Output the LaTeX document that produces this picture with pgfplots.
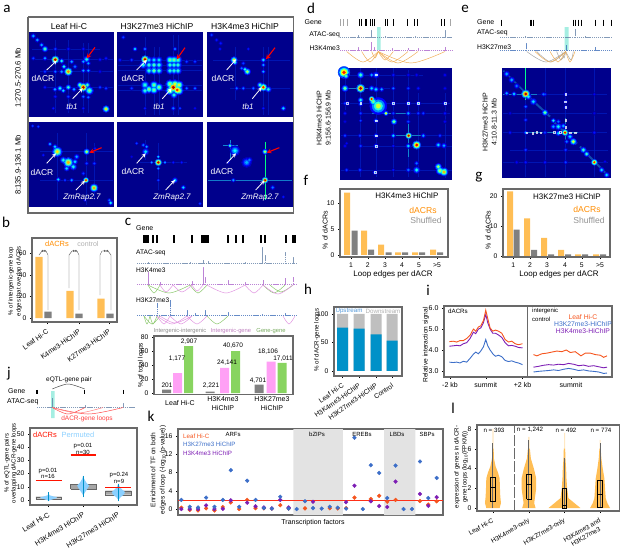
\documentclass[border=0pt]{standalone}
\usepackage{pgfplots}
\usepackage{pgfplotstable}
\usepackage{fontspec}
\setmainfont{Liberation Sans}
\newfontfamily\letterfont{Carlito}
\pgfplotsset{compat=1.18}
\definecolor{hmbg}{RGB}{0,0,140}
\definecolor{stripe}{RGB}{0,35,205}
\definecolor{barorange}{RGB}{255,190,85}
\definecolor{bargray}{RGB}{128,128,128}
\definecolor{barpink}{RGB}{255,160,245}
\definecolor{bargreen}{RGB}{136,212,96}
\definecolor{tealband}{RGB}{165,238,226}
\definecolor{lred}{RGB}{245,85,30}
\definecolor{lblue}{RGB}{60,110,200}
\definecolor{lpurple}{RGB}{125,30,180}
\definecolor{upblue}{RGB}{0,145,200}
\definecolor{permblue}{RGB}{140,208,255}
\definecolor{framegray}{RGB}{105,105,105}
\definecolor{track}{RGB}{90,120,160}
\definecolor{k4track}{RGB}{165,90,200}
\definecolor{k27track}{RGB}{50,100,180}
\definecolor{arcgreen}{RGB}{140,200,110}
\definecolor{arcpink}{RGB}{225,150,225}
\definecolor{arcorange}{RGB}{240,175,90}
\definecolor{txtgray}{RGB}{175,175,175}

% heatmap spots: x y (in crop units), v colour level, s radius
\pgfplotstableread[row sep=\\]{x y v s\\
135 215 .2 1.2\\ 166 215 .25 1.2\\ 135 262 .15 1.2\\ 205 147 .15 1.2\\ 250 147 .15 1.2\\ 166 147 .2 1.2\\ 300 179 .15 1.2\\ 300 215 .12 1.2\\ 300 262 .2 1.2\\ 205 325 .15 1.2\\ 166 290 .15 1.2\\ 205 290 .2 1.2\\
100 108 .3 1.5\\ 112 120 .3 1.4\\ 125 135 .3 1.4\\ 135 147 .45 1.8\\ 135 175 .3 1.3\\ 100 175 .2 1.2\\
185 183 .4 1.5\\ 192 200 .4 1.5\\ 215 185 .3 1.4\\ 185 215 .3 1.4\\ 225 200 .25 1.4\\ 260 178 .4 2\\ 250 185 .3 1.3\\ 265 190 .3 1.3\\ 250 212 .3 1.3\\ 265 212 .3 1.3\\
180 265 .4 1.6\\ 165 268 .3 1.4\\ 190 272 .35 1.4\\ 205 262 .45 1.6\\ 222 268 .3 1.4\\ 240 255 .5 1.8\\ 268 272 .5 2.5\\ 262 255 .45 1.7\\ 250 290 .25 1.2\\ 265 292 .25 1.2\\ 318 265 .2 1.2\\ 318 175 .15 1.2\\ 160 325 .15 1\\ 250 325 .15 1\\
205 215 .75 2.4\\ 166 179 .95 2.2\\ 250 262 .95 2.4\\ 318 327 .65 2\\
}\hmA
\pgfplotstableread[row sep=\\]{x y v s\\
370 112 .2 1.2\\ 405 147 .35 1.3\\ 435 147 .25 1.2\\ 525 147 .25 1.2\\ 360 180 .15 1.2\\ 395 180 .2 1.2\\ 585 185 .2 1.2\\ 395 265 .2 1.2\\ 560 265 .25 1.2\\ 585 265 .25 1.2\\ 560 185 .2 1.2\\ 435 325 .15 1\\ 520 325 .25 1.4\\ 540 325 .2 1\\ 585 325 .12 1\\
430 195 .4 2.2\\ 447 195 .42 2.2\\ 462 195 .45 2.2\\ 477 195 .42 2.2\\ 447 212 .42 2.2\\ 462 212 .5 2.2\\ 477 212 .42 2.2\\ 447 180 .35 2\\ 462 180 .35 2\\ 477 180 .35 2\\
510 180 .5 2.4\\ 522 180 .5 2.4\\ 534 180 .45 2.4\\ 510 195 .42 2.2\\ 522 195 .42 2.2\\ 534 195 .42 2.2\\ 510 212 .42 2.2\\ 522 212 .42 2.2\\ 534 212 .42 2.2\\
435 255 .42 2.4\\ 447 268 .5 2.4\\ 462 255 .5 2.4\\ 462 270 .5 2.4\\ 477 262 .5 2.4\\ 435 272 .42 2.2\\ 510 252 .55 2.6\\ 525 252 .6 2.6\\ 510 272 .6 2.6\\ 537 255 .6 2.6\\ 537 272 .6 2.6\\ 522 285 .42 2\\
435 178 .95 2.2\\ 520 262 .95 3\\ 532 270 .85 2.5\\
}\hmB
\pgfplotstableread[row sep=\\]{x y v s\\
635 105 .2 1.2\\ 650 120 .15 1.2\\ 662 130 .15 1.2\\ 660 147 .15 1\\ 745 147 .15 1\\ 790 195 .3 1.2\\ 790 215 .3 1.2\\ 730 190 .2 1.2\\ 725 205 .25 1.2\\ 710 265 .25 1.2\\ 730 265 .25 1.2\\ 760 265 .25 1.2\\ 790 325 .15 1\\ 745 325 .15 1\\ 805 268 .4 1.8\\ 780 255 .45 1.7\\ 790 180 .35 1.5\\ 735 208 .4 1.5\\ 705 188 .4 1.5\\
702 180 .65 2\\ 742 215 .55 2\\ 790 262 .85 2.2\\ 850 325 .35 1.5\\
}\hmC
\pgfplotstableread[row sep=\\]{x y v s\\
98 378 .2 1\\ 115 380 .2 1\\ 150 432 .3 1.2\\ 165 440 .35 1.4\\ 130 465 .15 1\\ 190 480 .4 2\\ 220 500 .4 2\\ 230 470 .3 1.6\\ 200 505 .35 1.6\\ 225 485 .35 1.6\\ 260 490 .2 1.2\\ 283 490 .2 1.2\\ 250 520 .2 1.2\\ 175 538 .35 1.3\\ 215 540 .3 1.2\\ 195 540 .2 1\\ 285 445 .15 1\\ 255 600 .15 1\\ 328 600 .25 1.2\\ 332 608 .4 1.4\\
172 455 .65 3\\ 205 487 .7 3\\ 260 455 .55 1.8\\ 258 540 .85 1.6\\ 282 563 .72 2.4\\
}\hmD
\pgfplotstableread[row sep=\\]{x y v s\\
410 430 .2 1\\ 430 435 .25 1.2\\ 395 470 .1 1\\ 475 470 .35 1\\ 475 505 .3 1\\ 455 487 .3 1\\ 495 487 .3 1\\ 520 487 .15 1\\ 545 487 .15 1\\ 475 540 .2 1\\ 440 440 .3 1.2\\ 550 562 .35 1.4\\ 600 610 .2 1\\
437 455 .35 2\\ 525 540 .35 1.6\\ 475 487 .95 2\\
}\hmE
\pgfplotstableread[row sep=\\]{x y v s\\
690 437 .45 1.2\\ 685 487 .15 1\\ 740 487 .3 3\\ 748 480 .25 1.8\\ 700 540 .3 1.2\\ 818 562 .25 1.4\\ 850 590 .15 1\\
705 452 .38 3\\ 795 455 .55 1.6\\ 795 540 .95 1.8\\
}\hmF
\pgfplotstableread[row sep=\\]{x y v s\\
105 340 .15 1.2\\ 152 340 .2 1.2\\ 250 340 .2 1.2\\ 405 340 .15 1.2\\ 105 365 .1 1.2\\ 405 365 .12 1.2\\ 405 225 .12 1.2\\ 105 310 .2 1.2\\ 340 340 .2 1.2\\ 295 265 .2 1.2\\ 250 265 .25 1.2\\ 325 265 .15 1.2\\ 405 265 .12 1.2\\ 152 438 .2 1.2\\ 105 438 .12 1.2\\ 405 510 .4 1.4\\
320 225 .12 1.2\\ 295 225 .12 1.2\\ 250 225 .15 1.2\\ 198 225 .3 2\\ 185 225 .3 1.4\\ 152 225 .45 2\\ 185 265 .35 1.6\\ 105 265 .5 2\\ 198 268 .35 1.6\\ 215 268 .3 1.4\\
112 310 .2 1.4\\ 152 300 .4 1.6\\ 152 312 .3 1.4\\ 250 310 .25 1.4\\ 295 310 .3 1.4\\ 325 310 .3 1.4\\ 405 310 .25 1.4\\ 228 340 .6 1.4\\ 295 340 .3 1.4\\ 325 340 .2 1.2\\ 198 362 .3 1.4\\ 252 365 .5 1.8\\ 295 365 .2 1.2\\ 152 362 .2 1\\
105 407 .2 1.2\\ 150 407 .2 1.2\\ 198 407 .3 1.4\\ 250 407 .35 1.4\\ 340 407 .3 1.4\\ 390 407 .2 1.2\\ 198 438 .3 1.4\\ 295 438 .35 1.5\\ 385 435 .35 1.6\\ 402 437 .3 1.6\\ 250 438 .15 1\\ 110 510 .2 1.2\\ 150 510 .2 1.2\\ 195 517 .25 1.4\\ 250 510 .15 1\\ 295 510 .25 1.4\\ 320 510 .4 2\\ 320 490 .25 1.4\\ 385 500 .55 2\\ 390 512 .55 2.4\\ 110 430 .12 1\\
205 318 .58 5\\ 190 305 .5 2.4\\ 102 217 .85 3.5\\ 108 228 .45 1.8\\ 152 265 .95 2.5\\ 185 297 .9 1.6\\ 296 407 .95 1.8\\ 320 435 .9 2.5\\ 402 516 .7 2.4\\
}\hmG
\pgfplotstableread[row sep=\\]{x y v s\\
647 320 .25 1.2\\ 647 360 .2 1.2\\ 647 398 .3 1.2\\ 647 450 .2 1.2\\ 647 487 .15 1.2\\ 705 398 .2 1.2\\ 705 283 .2 1.2\\ 705 487 .15 1.2\\ 767 487 .2 1.2\\ 767 450 .2 1.2\\ 853 398 .15 1.2\\ 853 340 .1 1.2\\ 600 398 .15 1.2\\ 600 340 .1 1.2\\ 620 487 .12 1.2\\
590 222 .3 1.8\\ 605 240 .3 1.8\\ 620 258 .25 1.6\\ 670 305 .35 2\\ 655 290 .4 1.8\\ 705 338 .5 1.8\\ 730 362 .4 1.4\\ 745 380 .4 2\\ 730 380 .3 1.6\\ 745 400 .35 1.6\\ 760 378 .3 1.6\\ 745 365 .25 1.4\\ 780 410 .35 1.8\\ 790 425 .6 2\\ 770 425 .25 1.4\\ 820 450 .45 1.8\\ 830 462 .45 1.6\\ 875 510 .35 1.6\\ 890 525 .35 1.6\\ 885 485 .12 1\\
767 283 .2 1.2\\ 767 305 .2 1.2\\ 767 322 .2 1.2\\ 853 283 .12 1\\ 700 283 .25 1.2\\ 590 280 .3 1.4\\ 612 282 .35 1.4\\
647 282 .95 2.5\\ 765 398 .9 1.8\\ 853 487 .85 1.8\\
}\hmH

\pgfplotsset{
  pos/.style n args={4}{at={(#1pt,-#2pt)},anchor=north west,width=#3pt,height=#4pt,scale only axis},
  hmax/.style={hide axis,axis background/.style={fill=hmbg},y dir=reverse,colormap/jet,point meta min=0,point meta max=1,enlargelimits=false,clip=true},
  hmstripe/.style={stripe,line width=.9pt,opacity=.6,forget plot},
  common/.style={enlargelimits=false,axis line style={framegray,line width=1.2pt},
    tick label style={font=\fontsize{6.8}{8}\selectfont},
    tickwidth=2pt,tick align=outside,xtick pos=bottom,ytick pos=left,
    every tick/.style={black,thin},
    /pgf/number format/assume math mode=true,
    /pgf/number format/1000 sep={},axis on top},
  sig/.style={#1,line width=.35pt,dash pattern=on 1.2pt off .7pt,opacity=.75},
}
\newcommand{\hmlayer}[3]{%
  \addplot[scatter,only marks,mark=*,scatter/use mapped color={draw=mapped color,fill=mapped color},
    point meta={\thisrow{v}*#2},
    visualization depends on={\thisrow{s}*#3\as\msz},
    scatter/@pre marker code/.append style={/tikz/mark size=\msz}]
    table[x=x,y=y] {#1};}
\newcommand{\hmplot}[1]{\hmlayer{#1}{.22}{1.7}\hmlayer{#1}{.45}{1.25}\hmlayer{#1}{.72}{.85}\hmlayer{#1}{1}{.45}}
\newcommand{\hmh}[3]{\addplot[hmstripe] coordinates {(#2,#1)(#3,#1)};}
\newcommand{\hmv}[3]{\addplot[hmstripe] coordinates {(#1,#2)(#1,#3)};}
\newcommand{\T}[4][]{\node[font=\fontsize{#2}{#2}\selectfont,inner sep=0pt,#1] at (axis cs:#3) {#4};}
\newcommand{\Lt}[2]{\node[font=\letterfont\fontsize{15}{15}\selectfont,inner sep=0pt] at (axis cs:#1) {#2};}
\newcommand{\arc}[6]{\addplot[#1,smooth,no marks,line width=.5pt] coordinates {(#2,#5)(#3,#6)(#4,#5)};}
\newcommand{\whitearrow}[4]{\draw[white,line width=.8pt,-stealth] (axis cs:#1/3,#2/3) -- (axis cs:#3/3,#4/3);}
\newcommand{\redarrow}[4]{\draw[red,line width=1.1pt,-stealth] (axis cs:#1/3,#2/3) -- (axis cs:#3/3,#4/3);}

\begin{document}
\begin{tikzpicture}
\path[use as bounding box] (0pt,0pt) rectangle (620pt,-549pt);

% --- panel a heatmaps
\begin{axis}[hmax,pos={29.3}{32}{84.4}{85},xmin=88,xmax=341,ymin=96,ymax=351]
\hmh{179}{95}{340}\hmh{215}{120}{340}\hmh{262}{140}{340}\hmh{147}{95}{300}\hmv{166}{120}{340}\hmv{205}{120}{340}\hmv{250}{130}{340}\hmv{265}{130}{340}
\hmplot{\hmA}
\end{axis}
\begin{axis}[hmax,pos={117.3}{32}{85.7}{85},xmin=352,xmax=609,ymin=96,ymax=351]
\hmh{180}{355}{605}\hmh{195}{355}{605}\hmh{212}{355}{605}\hmh{255}{355}{605}\hmh{272}{355}{605}\hmv{435}{110}{345}\hmv{462}{140}{345}\hmv{477}{140}{345}\hmv{520}{105}{345}\hmv{535}{105}{345}
\hmplot{\hmB}
\end{axis}
\begin{axis}[hmax,pos={207}{32}{85.7}{85},xmin=621,xmax=878,ymin=96,ymax=351]
\hmh{180}{640}{870}\hmh{265}{690}{870}\hmv{705}{140}{300}\hmv{790}{140}{345}\hmv{805}{140}{345}
\hmplot{\hmC}
\end{axis}
\begin{axis}[hmax,pos={29.3}{122.3}{84.4}{85},xmin=88,xmax=341,ymin=367,ymax=621]
\hmh{455}{120}{340}\hmh{540}{120}{340}\hmv{260}{400}{615}\hmv{172}{400}{600}\hmv{283}{430}{600}
\hmplot{\hmD}
\end{axis}
\begin{axis}[hmax,pos={117.3}{122.3}{85.7}{85},xmin=352,xmax=609,ymin=367,ymax=621]
\hmh{487}{420}{560}\hmv{475}{430}{570}\hmv{437}{420}{480}
\hmplot{\hmE}
\end{axis}
\begin{axis}[hmax,pos={207}{122.3}{85.7}{85},xmin=621,xmax=878,ymin=367,ymax=621]
\addplot[cyan!60!blue,line width=.9pt,forget plot] coordinates {(625,540)(875,540)};
\addplot[green!50!cyan,line width=1pt,forget plot] coordinates {(795,425)(795,600)};
\addplot[cyan!70!blue,line width=.7pt,forget plot] coordinates {(670,437)(715,437)};
\addplot[cyan!70!blue,line width=.7pt,forget plot] coordinates {(690,420)(690,480)};
\hmplot{\hmF}
\end{axis}

% --- panel d, e heatmaps
\begin{axis}[hmax,pos={340}{67.7}{112.3}{112.3},xmin=90,xmax=427,ymin=203,ymax=540]
\hmh{265}{92}{240}\hmh{310}{92}{420}\hmh{340}{150}{420}\hmh{407}{92}{425}\hmh{438}{150}{425}\hmh{510}{92}{425}\hmh{225}{92}{340}\hmv{105}{205}{330}\hmv{152}{205}{530}\hmv{198}{205}{530}\hmv{250}{205}{530}\hmv{296}{210}{530}\hmv{325}{280}{530}\hmv{405}{280}{535}
\addplot[cyan!70!blue,line width=1pt,forget plot] coordinates {(296,360)(296,470)};
\addplot[cyan!60!blue,line width=.9pt,forget plot] coordinates {(250,407)(345,407)};
\addplot[cyan!60!blue,line width=.9pt,forget plot] coordinates {(95,265)(175,265)};
\addplot[cyan!60!blue,line width=.7pt,forget plot] coordinates {(185,340)(290,340)};
\hmplot{\hmG}
\addplot[only marks,mark=square,mark size=.9pt,mark options={white,opacity=.75,line width=.4pt}] coordinates {(198,224)(112,310)(152,310)(250,310)(295,310)(325,310)(405,310)(198,362)(198,407)(198,438)(195,517)};
\end{axis}
\begin{axis}[hmax,pos={501.7}{68.3}{109.3}{110},xmin=575,xmax=903,ymin=205,ymax=535]
\hmh{283}{580}{890}\hmh{398}{580}{890}\hmh{487}{580}{895}\hmh{340}{580}{890}\hmh{450}{600}{895}\hmv{647}{205}{530}\hmv{705}{205}{530}\hmv{767}{205}{530}\hmv{853}{205}{530}
\addplot[green!45!cyan,line width=1.1pt,forget plot] coordinates {(647,205)(647,300)};
\addplot[cyan!60!blue,line width=.9pt,forget plot] coordinates {(578,283)(680,283)};
\addplot[cyan!60!blue,line width=.8pt,forget plot] coordinates {(645,398)(805,398)};
\addplot[cyan!60!blue,line width=.8pt,forget plot] coordinates {(767,355)(767,430)};
\addplot[cyan!50!blue,line width=1.6pt,opacity=.7,forget plot] coordinates {(580,212)(640,272)};
\addplot[cyan!50!blue,line width=2pt,opacity=.7,forget plot] coordinates {(655,290)(720,350)};
\addplot[cyan!50!blue,line width=3pt,opacity=.7,forget plot] coordinates {(730,362)(800,432)};
\addplot[cyan!50!blue,line width=2pt,opacity=.7,forget plot] coordinates {(810,440)(895,528)};
\hmplot{\hmH}
\addplot[only marks,mark=square,mark size=.9pt,mark options={white,opacity=.75,line width=.4pt}] coordinates {(767,283)(765,305)(767,322)(767,360)(767,382)(650,398)(668,400)(680,396)(692,398)(732,397)(750,397)(780,398)(795,398)};
\end{axis}

% --- panel b
\begin{axis}[common,pos={32}{238}{85}{84},xmin=32,xmax=117,ymin=-3.7,ymax=74,ybar,bar width=7.3pt,bar shift=0pt,
  ytick={0,20,40,60},xtick={47,79,109},xticklabels={Leaf Hi-C,K4me3-HiChIP,K27me3-HiChIP},
  x tick label style={rotate=35,anchor=north east,font=\fontsize{7}{8}\selectfont}]
\addplot[fill=barorange,draw=none] coordinates {(39,56.5)(70,25)(101,18)};
\addplot[fill=bargray,draw=none] coordinates {(48,6)(79,4)(110,4)};
\end{axis}

% --- panel c bars
\begin{axis}[common,pos={154}{336}{139}{58.5},xmin=154,xmax=293,ymin=-2,ymax=81.5,ybar,bar width=9pt,bar shift=0pt,
  ytick={0,20,40,60,80},xtick=\empty]
\addplot[fill=bargray,draw=none] coordinates {(166.5,5)(210,2)(259,12)};
\addplot[fill=barpink,draw=none] coordinates {(177.5,28.5)(224.5,36)(271,45)};
\addplot[fill=bargreen,draw=none] coordinates {(188.5,67)(235.5,60)(282,43)};
\end{axis}

% --- panel f
\begin{axis}[common,pos={340}{189}{108}{68},xmin=340,xmax=448,ymin=-.4,ymax=12.7,ybar,bar width=6pt,bar shift=0pt,
  ytick={0,5,10},xtick={351,367.7,385,402,419,437},xticklabels={1,2,3,4,5,>5}]
\addplot[fill=barorange,draw=none] coordinates {(347,12)(364,4.7)(381,2)(398,.5)(415,.5)(433,1)};
\addplot[fill=bargray,draw=none] coordinates {(354.5,4.7)(371,1)(388.5,.5)(405,.5)(422,.5)(440,.5)};
\end{axis}

% --- panel g
\begin{axis}[common,pos={503}{189}{107}{68},xmin=503,xmax=610,ymin=-.4,ymax=22.3,ybar,bar width=6pt,bar shift=0pt,
  ytick={0,10,20},xtick={513.3,530,547,565,581.7,600},xticklabels={1,2,3,4,5,>5}]
\addplot[fill=barorange,draw=none] coordinates {(510,21.5)(527,12.5)(544,6)(561,2)(578,.5)(596,.5)};
\addplot[fill=bargray,draw=none] coordinates {(516.7,8.7)(534,2)(551,.5)(568,.5)(585,.5)(603,.5)};
\end{axis}

% --- panel h
\begin{axis}[common,pos={334}{307}{68}{69},xmin=334,xmax=402,ymin=-8.8,ymax=112,ybar,bar width=11pt,bar shift=0pt,
  ytick={0,50,100},xtick={342.5,359,376,392},
  xticklabels={Leaf Hi-C,H3K4me3-HiChIP,H3K27me3-HiChIP,Control},
  x tick label style={rotate=35,anchor=north east,font=\fontsize{6.8}{8}\selectfont}]
\addplot[fill=gray!50,draw=none] coordinates {(342.5,100)(359,100)(376,100)(392,100)};
\addplot[fill=upblue,draw=none] coordinates {(342.5,76)(359,74)(376,64)(392,53)};
\end{axis}

% --- panel i
\begin{axis}[common,pos={444}{306}{168}{71},xmin=402,xmax=905,ymin=2.71,ymax=6.1,
  ytick={3,4,5,6},yticklabel style={/pgf/number format/fixed,/pgf/number format/fixed zerofill,/pgf/number format/precision=1},
  xtick={420,527,637,782},xticklabels={-2 kb,summit,+2 kb,summit},
  tick label style={font=\fontsize{7}{8}\selectfont}]
\addplot[lblue,line width=.9pt] coordinates {(418,3.42)(430,3.4)(440,3.42)(450,3.38)(460,3.46)(470,3.42)(480,3.6)(490,3.8)(497,3.9)(505,3.82)(512,3.95)(520,4.15)(527,4.5)(533,4.2)(540,4)(548,3.82)(556,3.7)(565,3.75)(575,3.68)(585,3.5)(595,3.45)(605,3.48)(615,3.42)(625,3.38)(637,3.3)};
\addplot[lpurple,line width=.9pt] coordinates {(418,4.18)(430,4.2)(440,4.22)(450,4.2)(460,4.3)(470,4.35)(480,4.55)(490,4.85)(497,4.78)(505,5)(512,5.05)(520,5.3)(527,5.7)(533,5.3)(540,5)(548,4.8)(556,4.8)(565,4.72)(575,4.6)(585,4.35)(595,4.2)(605,4.22)(615,4.18)(625,4.12)(637,4.1)};
\addplot[lred,line width=.9pt] coordinates {(418,4.4)(430,4.42)(440,4.38)(450,4.45)(460,4.45)(470,4.55)(480,4.7)(490,5)(497,4.9)(505,5.1)(512,5.15)(520,5.4)(527,5.9)(533,5.5)(540,5.05)(548,4.9)(556,4.95)(565,4.9)(575,4.8)(585,4.5)(595,4.38)(605,4.42)(615,4.3)(625,4.25)(637,4.3)};
\addplot[lblue,line width=.9pt] coordinates {(670,2.95)(685,2.98)(700,3)(715,3.02)(730,3.05)(745,3.02)(760,3.08)(775,3.12)(790,3.08)(805,3.02)(820,3.05)(835,3)(850,2.98)(865,2.95)(880,2.88)(890,2.9)};
\addplot[lpurple,line width=.9pt] coordinates {(670,3.18)(685,3.22)(700,3.27)(715,3.3)(730,3.28)(745,3.32)(760,3.3)(775,3.36)(790,3.32)(805,3.25)(820,3.28)(835,3.22)(850,3.25)(865,3.2)(880,3.15)(890,3.18)};
\addplot[lred,line width=.9pt] coordinates {(670,3.78)(680,3.72)(695,3.82)(710,3.85)(725,3.9)(740,3.95)(755,3.92)(768,4)(780,3.88)(795,3.92)(812,3.72)(825,3.85)(840,3.85)(855,3.78)(870,3.75)(880,3.65)(890,3.72)};
\addplot[framegray,line width=1.2pt] coordinates {(652,2.71)(652,6.1)};
\end{axis}

% --- panel j
\begin{axis}[common,pos={30}{428}{107}{77},xmin=90,xmax=412,ymin=-3.8,ymax=54.5,
  ytick={0,10,20,30,40,50},xtick={146,251,356},xticklabels={Leaf Hi-C,H3K4me3 HiChIP,H3K27me3 HiChIP},
  x tick label style={rotate=32,anchor=north east,font=\fontsize{7.2}{8}\selectfont}]
\addplot[fill=gray!70,draw=black!60,line width=.3pt] coordinates {(108,1)(185,1)(185,2.5)(108,2.5)(108,1)};
\addplot[fill=gray!70,draw=black!60,line width=.3pt] coordinates {(212,8.5)(290,8.5)(290,12)(212,12)(212,8.5)};
\addplot[fill=gray!70,draw=black!60,line width=.3pt] coordinates {(317,4)(395,4)(395,7)(317,7)(317,4)};
\addplot[fill=permblue,draw=none,smooth] coordinates {(146,-.5)(128,1)(120,1.8)(130,2.6)(143,3.6)(146,5)(149,3.6)(162,2.6)(172,1.8)(164,1)(146,-.5)};
\addplot[fill=permblue,draw=none] coordinates {(250,3.5)(244,6)(236,9)(232,11)(240,13)(247,16)(250,18.5)(253,16)(260,13)(268,11)(264,9)(256,6)(250,3.5)};
\addplot[fill=permblue,draw=none] coordinates {(356,0)(350,2)(340,4)(336,6)(345,8)(352,10)(356,12.5)(360,10)(367,8)(376,6)(372,4)(362,2)(356,0)};
\addplot[upblue,line width=.5pt] coordinates {(146,-1)(146,6)};
\addplot[upblue,line width=.5pt] coordinates {(250,2)(250,18)};
\addplot[upblue,line width=.5pt] coordinates {(356,-1)(356,12)};
\addplot[red!85!orange,line width=1.2pt] coordinates {(107,15)(185,15)};
\addplot[red!85!orange,line width=1.2pt] coordinates {(212,34)(290,34)};
\addplot[red!85!orange,line width=1.2pt] coordinates {(317,9.7)(395,9.7)};
\end{axis}

% --- panel k
\begin{axis}[common,pos={178}{429}{265}{86},xmin=25,xmax=818,ymin=-1.3,ymax=17.5,
  ytick={0,4,8,12,16},xtick=\empty,axis on top=false]
\addplot[fill=gray!22,draw=none] coordinates {(370,-1.3)(518,-1.3)(518,17.5)(370,17.5)(370,-1.3)};
\addplot[fill=gray!22,draw=none] coordinates {(642,-1.3)(735,-1.3)(735,17.5)(642,17.5)(642,-1.3)};
\addplot[red!80!orange!90,line width=1pt] coordinates {(25,1.9)(818,1.9)};
\addplot[only marks,mark=*,mark size=1.9pt,mark options={lred,draw=none}] coordinates {(35,.3)(60,-.2)(85,-.3)(109,.15)(134,-.3)(159,.45)(183,1.45)(208,0)(232,2)(257,.2)(282,.15)(306,.1)(331,.85)(356,.1)(405,.15)(479,.2)(503,.15)(528,.2)(553,2.5)(602,2.2)(627,2.9)(651,1.6)(676,2)(749,1.75)(774,1)(799,1.7)};
\addplot[only marks,mark=*,mark size=1.9pt,mark options={lpurple,draw=none}] coordinates {(35,0)(60,0)(85,0)(109,.8)(134,0)(159,.05)(183,1.9)(232,1.4)(257,.6)(282,.35)(306,.15)(331,2)(356,.35)(429,1.6)(528,1.5)(553,5.1)(602,1.7)(627,.65)(651,.45)(676,6)(749,3.3)(774,.7)(799,2.6)};
\addplot[only marks,mark=*,mark size=1.9pt,mark options={lblue,draw=none}] coordinates {(35,2)(60,.5)(85,.35)(109,2.5)(134,.5)(159,2)(183,8.5)(208,.5)(232,6.2)(257,2)(282,.2)(306,.1)(331,2.7)(356,.1)(380,0)(405,1.7)(429,.2)(455,.1)(479,.5)(503,.3)(528,.1)(553,15.6)(578,0)(602,9.6)(627,7.9)(651,2.4)(676,9.5)(700,0)(725,0)(749,10.4)(774,2.4)(799,6.8)};
\end{axis}

% --- panel l
\begin{axis}[common,pos={477}{425}{143}{86},xmin=80,xmax=510,ymin=-.3,ymax=8.4,
  ytick={0,2,4,6,8},xtick={128,236,343,450},
  xticklabels={Leaf Hi-C,H3K4me3-only,H3K27me3-only,{H3K4me3 and\\H3K27me3}},
  x tick label style={rotate=30,anchor=north east,align=center,font=\fontsize{6.5}{7.5}\selectfont}]
\addplot[fill=barorange!35,draw=none] coordinates {(126,5)(126,8)(130,8)(130,5)(126,5)};
\addplot[fill=barorange!35,draw=none] coordinates {(234,5)(234,7.2)(238,7.2)(238,5)(234,5)};
\addplot[fill=barorange!35,draw=none] coordinates {(341,4)(342,7.6)(345,7.6)(345,4)(341,4)};
\addplot[fill=barorange!35,draw=none] coordinates {(448,5)(449,6.9)(452,6.9)(452,5)(448,5)};
\addplot[fill=barorange,draw=none] coordinates {(108,0)(104,.5)(106,1.2)(107,2)(108,3)(113,3.6)(120,4.2)(125,5)(126,6)(130,6)(131,5)(136,4.2)(143,3.6)(148,3)(149,2)(150,1.2)(152,.5)(148,0)(108,0)};
\addplot[fill=barorange,draw=none] coordinates {(216,0)(220,.5)(218,1)(214,2)(214,3)(221,4)(230,5)(233,6)(239,6)(242,5)(251,4)(258,3)(258,2)(254,1)(252,.5)(256,0)(216,0)};
\addplot[fill=barorange,draw=none] coordinates {(295,0)(313,.5)(331,1)(335,2)(337,3)(338,4)(340,5)(341,6)(345,6)(346,5)(348,4)(349,3)(351,2)(355,1)(373,.5)(391,0)(295,0)};
\addplot[fill=barorange,draw=none] coordinates {(420,0)(428,.5)(433,1)(435,2)(437,3)(442,4)(446,5)(448,6)(452,6)(454,5)(458,4)(463,3)(465,2)(467,1)(472,.5)(480,0)(420,0)};
\addplot[black!60,line width=1pt] coordinates {(128,0)(128,6.6)};
\addplot[black!60,line width=1pt] coordinates {(236,0)(236,6.9)};
\addplot[black!60,line width=1pt] coordinates {(343,0)(343,5.1)};
\addplot[black!60,line width=1pt] coordinates {(450,0)(450,6.6)};
\addplot[draw=black,line width=.7pt] coordinates {(121,.65)(135,.65)(135,3.1)(121,3.1)(121,.65)};
\addplot[black,line width=.8pt] coordinates {(121,2.05)(135,2.05)};
\addplot[draw=black,line width=.7pt] coordinates {(229,.9)(243,.9)(243,3.4)(229,3.4)(229,.9)};
\addplot[black,line width=.8pt] coordinates {(229,2.35)(243,2.35)};
\addplot[draw=black,line width=.7pt] coordinates {(336,0)(350,0)(350,2)(336,2)(336,0)};
\addplot[black,line width=.8pt] coordinates {(336,.25)(350,.25)};
\addplot[draw=black,line width=.7pt] coordinates {(443,.05)(457,.05)(457,2.8)(443,2.8)(443,.05)};
\addplot[black,line width=.8pt] coordinates {(443,1.4)(457,1.4)};
\addplot[framegray,line width=1.3pt,dash pattern=on 11pt off 2pt] coordinates {(192,-.3)(192,8.4)};
\end{axis}

% --- tracks, arcs and text on top, in reference pixels
\begin{axis}[hide axis,clip=false,pos={0}{0}{620}{549},xmin=0,xmax=620,ymin=0,ymax=549,y dir=reverse,enlargelimits=false]
% teal highlights under the tracks
\addplot[fill=tealband,draw=none] coordinates {(377,27)(380.5,27)(380.5,50)(377,50)(377,27)};
\addplot[fill=tealband,draw=none] coordinates {(564.5,27)(568.5,27)(568.5,50)(564.5,50)(564.5,27)};
\addplot[fill=tealband,draw=none] coordinates {(51,391)(54.7,391)(54.7,418)(51,418)(51,391)};

% frame of a
\addplot[framegray,line width=1.2pt] coordinates {(28,17)(293.5,17)(293.5,213)(28,213)(28,17)};
\T{8.6}{69,26}{Leaf Hi-C}\T{8.6}{157,26}{H3K27me3 HiChIP}\T{8.6}{245,26}{H3K4me3 HiChIP}
\T[rotate=90]{7.6}{18,78}{1:270.5-270.6 Mb}\T[rotate=90]{7.6}{18,165}{8:135.9-136.1 Mb}
\T[white]{8.5}{43,78}{dACR}\T[white]{8.5}{133,78}{dACR}\T[white]{8.5}{223,78}{dACR}
\T[white]{8.5}{42,172}{dACR}\T[white]{8.5}{133,171}{dACR}\T[white]{8.5}{222,171}{dACR}
\T[white,font=\itshape\fontsize{8}{8}\selectfont]{8}{72,107}{tb1}
\T[white,font=\itshape\fontsize{8}{8}\selectfont]{8}{159,107}{tb1}
\T[white,font=\itshape\fontsize{8}{8}\selectfont]{8}{248,107}{tb1}
\T[white,font=\itshape\fontsize{8}{8}\selectfont]{8}{82,198}{ZmRap2.7}
\T[white,font=\itshape\fontsize{8}{8}\selectfont]{8}{172,198}{ZmRap2.7}
\T[white,font=\itshape\fontsize{8}{8}\selectfont]{8}{260,198}{ZmRap2.7}
\whitearrow{140}{210}{170}{182}\whitearrow{218}{296}{248}{265}
\whitearrow{410}{210}{440}{180}\whitearrow{487}{296}{515}{265}
\whitearrow{680}{210}{708}{178}\whitearrow{757}{296}{785}{262}
\whitearrow{140}{490}{168}{460}\whitearrow{228}{570}{255}{542}
\whitearrow{410}{490}{437}{460}\whitearrow{497}{570}{525}{540}
\whitearrow{680}{490}{708}{460}\whitearrow{767}{570}{793}{542}
\redarrow{285}{142}{260}{175}\redarrow{555}{143}{530}{178}\redarrow{825}{143}{798}{178}
\redarrow{305}{443}{268}{458}\redarrow{838}{443}{800}{458}

% panel letters
\Lt{7,9}{a}\Lt{6,222}{b}\Lt{128,222}{c}\Lt{311,8}{d}\Lt{465,9}{e}\Lt{306,180}{f}\Lt{479,177}{g}\Lt{308,289}{h}\Lt{428,290}{i}\Lt{9,374}{j}\Lt{151,416}{k}\Lt{453,408}{l}

% panel b text
\T[orange!90!yellow]{7.5}{57,244}{dACRs}\T[txtgray]{7}{88,244}{control}
\T[rotate=90]{6}{11,281}{\% of intergenic-gene loop}\T[rotate=90]{6}{19,281}{edges that overlap dACRs}
\addplot[black!70,line width=.4pt] coordinates {(39,255)(42,251)(46,251)(48,255)(48,310)};
\addplot[black!70,line width=.4pt] coordinates {(69,288)(69,255)(72,251)(77,251)(79,255)(79,310)};
\addplot[black!70,line width=.4pt] coordinates {(100,295)(100,255)(102,251)(108,251)(111,255)(111,310)};
\T{6}{44,252}{**}\T{6}{75,252}{**}\T{6}{106,252}{**}

% panel c tracks
\T[anchor=west]{7}{136,228}{Gene}\T[anchor=west]{6.6}{136,253}{ATAC-seq}\T[anchor=west]{6.6}{136,270}{H3K4me3}\T[anchor=west]{6.6}{136,300}{H3K27me3}
\addplot[only marks,mark=|,mark size=4pt,mark options={black,line width=1.1pt}] coordinates {(144,239)(146,239)(148,239)(153,239)(157,239)(174,239)(192,239)(202,239)(204,239)(206,239)(208,239)(228,239)(236,239)(243,239)(261,239)(265,239)(286,239)(293,239)(295,239)};
\addplot[sig=track] coordinates {(137,263.5)(148,263.5)(148,262)(148,263.5)(180,263.5)(190,263.5)(190,262)(190,263.5)(203,263.5)(203,260)(203,263.5)(208,263.5)(208,261)(208,263.5)(240,263.5)(245,263.5)(245,262)(245,263.5)(262,263.5)(262,247)(262,263.5)(265,263.5)(265,255)(265,263.5)(285,263.5)(285,252)(285,263.5)(293,263.5)(293,257)(293,263.5)(297,263.5)};
\addplot[sig=k4track] coordinates {(137,284)(148,284)(148,272)(148,284)(160,284)(160,282)(160,284)(192,284)(192,281)(192,284)(203,284)(203,267)(203,284)(205,284)(205,277)(205,284)(228,284)(228,280)(228,284)(245,284)(245,282)(245,284)(263,284)(263,280)(263,284)(285,284)(285,278)(285,284)(293,284)(293,277)(293,284)(297,284)};
\arc{arcgreen}{148}{154}{160}{285}{293}\arc{arcgreen}{148}{169}{190}{285}{293}\arc{arcgreen}{190}{198}{207}{285}{293}\arc{arcgreen}{263}{274}{285}{285}{293}\arc{arcgreen}{270}{281}{293}{285}{292}
\arc{arcpink}{160}{166}{173}{285}{292}\arc{arcpink}{173}{182}{192}{285}{292}\arc{arcpink}{192}{197}{203}{285}{291}\arc{arcpink}{207}{226}{245}{285}{293}\arc{arcpink}{245}{254}{263}{285}{293}\arc{arcpink}{263}{278}{293}{285}{294}
\addplot[sig=k27track] coordinates {(137,315)(157,315)(157,303)(157,315)(170,315)(170,300)(170,315)(187,315)(187,310)(187,315)(195,315)(195,313)(195,315)(205,315)(205,310)(205,315)(228,315)(228,312)(228,315)(235,315)(262,315)(262,314)(262,315)(285,315)(285,313)(285,315)(297,315)};
\arc{arcgreen}{144}{147}{150}{316}{324}\arc{arcgreen}{150}{153}{157}{316}{324}\arc{arcgreen}{207}{217}{228}{316}{324}\arc{arcgreen}{144}{152}{160}{316}{324}
\arc{arcpink}{157}{164}{170}{316}{324}\arc{arcpink}{157}{172}{187}{316}{324}\arc{arcpink}{170}{181}{192}{316}{324}\arc{arcpink}{187}{197}{207}{316}{324}\arc{arcpink}{283}{289}{295}{316}{324}\arc{arcpink}{160}{175}{192}{316}{323}
\T[black!45]{5.8}{180,331}{Intergenic-intergenic}\T[arcpink!85!black]{5.8}{231,331}{Intergenic-gene}\T[arcgreen!85!black]{5.8}{271,331}{Gene-gene}
\T[rotate=90]{6.5}{141,365}{\% of total loops}
\T{6.5}{167,385}{201}\T{6.5}{177,359}{1,177}\T{6.5}{189,342}{2,907}\T{6.5}{211,386}{2,221}\T{6.5}{227,363}{24,141}\T{6.5}{233,346}{40,670}\T{6.5}{258,381}{4,701}\T{6.5}{268,352}{18,106}\T{6.5}{283,359}{17,011}
\T{7}{180,403}{Leaf Hi-C}\T{7}{223,399}{H3K4me3}\T{7}{223,408}{HiChIP}\T{7}{272,399}{H3K27me3}\T{7}{272,408}{HiChIP}

% panel d tracks
\T[anchor=east]{7}{322,22}{Gene}\T[anchor=east]{6.8}{340,35}{ATAC-seq}\T[anchor=east]{6.8}{340,48}{H3K4me3}
\addplot[only marks,mark=|,mark size=3.3pt,mark options={black!35,line width=.7pt}] coordinates {(340,22.5)(343.3,22.5)(347.3,22.5)(450,22.5)};
\addplot[only marks,mark=|,mark size=3.3pt,mark options={black,line width=.8pt}] coordinates {(359,22.5)(361.7,22.5)(365,22.5)(366.7,22.5)(370,22.5)(372.3,22.5)(374.3,22.5)(385,22.5)(387.3,22.5)(393.3,22.5)(407.7,22.5)(414,22.5)(417.3,22.5)(441,22.5)(444,22.5)};
\addplot[sig=track] coordinates {(340,37)(358,37)(358,35)(358,37)(371,37)(371,30)(371,37)(385,37)(385,36)(385,37)(415,37)(415,36)(415,37)(445,37)(445,30)(445,37)(452,37)};
\addplot[sig=k4track] coordinates {(340,50)(358,50)(358,47)(358,50)(371,50)(371,42)(371,50)(374,50)(374,47)(374,50)(392,50)(392,48)(392,50)(408,50)(408,48)(408,50)(418,50)(418,48)(418,50)(445,50)(445,47)(445,50)(452,50)};
\arc{arcorange}{346.7}{363}{378.3}{51.5}{62}\arc{arcorange}{361.7}{370}{378.3}{51.5}{62}\arc{arcorange}{371.7}{375}{378.3}{51.5}{58}\arc{arcorange}{378.3}{385}{393.3}{51.5}{60}\arc{arcorange}{378.3}{392}{408}{51.5}{62}\arc{arcorange}{378.3}{398}{418}{51.5}{63}\arc{arcorange}{378.3}{411}{445}{51.5}{63}
\T[rotate=90]{7}{319,118}{H3K4me3 HiChIP}\T[rotate=90]{7}{328,118}{9:156.6-156.9 Mb}

% panel e tracks
\T[anchor=west]{7}{477,22}{Gene}\T[anchor=west]{6.8}{477,33}{ATAC-seq}\T[anchor=west]{6.8}{477,47}{H3K27me3}
\addplot[only marks,mark=|,mark size=3.3pt,mark options={black,line width=.8pt}] coordinates {(501.7,23)(530,23)(531.7,23)(533.3,23)(573.3,23)(575.7,23)(578.3,23)(581.7,23)(595.7,23)(603.3,23)(611,23)};
\addplot[sig=track] coordinates {(500,37)(525,37)(525,36)(525,37)(564,37)(575,37)(575,29)(575,37)(585,37)(585,36)(585,37)(612,37)};
\addplot[sig=k27track] coordinates {(500,50)(526,50)(526,43)(526,50)(566,50)(566,45)(566,50)(595,50)(595,47)(595,50)(612,50)};
\arc{black!35}{526.7}{546}{565.7}{51.5}{62}\arc{black!35}{536.7}{551}{565.7}{51.5}{62}\arc{black!35}{556.7}{561}{565.7}{51.5}{60}\arc{black!35}{561.7}{564}{565.7}{51.5}{58}\arc{black!35}{565.7}{571}{573.3}{51.5}{60}
\arc{arcorange}{535}{550}{565.7}{51.5}{62}\arc{arcorange}{550}{558}{565.7}{51.5}{62}\arc{arcorange}{565.7}{570}{575}{51.5}{62}
\T[rotate=90]{7}{485,122}{H3K27me3 HiChIP}\T[rotate=90]{7}{494,122}{4:10.8-11.3 Mb}

% panels f, g text
\T{8}{407,196}{H3K4me3 HiChIP}\T[orange!90!yellow]{8.6}{423,210}{dACRs}\T[gray!85]{8.6}{426,220}{Shuffled}
\T{8}{393,274}{Loop edges per dACR}\T[rotate=90]{7}{325,230}{\% of dACRs}
\T{8}{567,197}{H3K27me3 HiChIP}\T[orange!90!yellow]{8.6}{587,209}{dACRs}\T[gray!85]{8.6}{589,220}{Shuffled}
\T{8}{559,274}{Loop edges per dACR}\T[rotate=90]{7}{488,230}{\% of dACRs}

% panel h text
\T[cyan!60!blue!70]{6.2}{349,311}{Upstream}\T[txtgray]{6.2}{383,311}{Downstream}
\T[rotate=90]{6.2}{317,340}{\% of dACR-gene loops}

% panel i text
\T{6.2}{458,311}{dACRs}\T[anchor=west]{6}{532,311}{intergenic}\T[anchor=west]{6}{532,319}{control}
\T[lred]{6.8}{583,317}{Leaf Hi-C}\T[lblue]{6.8}{583,324}{H3K27me3-HiChIP}\T[lpurple]{6.8}{583,331}{H3K4me3-HiChIP}
\T[rotate=90]{6.6}{426,345}{Relative interaction signal}

% panel j tracks and text
\T{6.5}{69,380}{eQTL-gene pair}\T[anchor=west]{7}{8,391}{Gene}\T[anchor=west]{7}{7,402}{ATAC-seq}
\addplot[only marks,mark=|,mark size=2.2pt,mark options={black,line width=1.1pt}] coordinates {(37,392)(84.7,392)(123.3,392)};
\addplot[black!70,smooth,line width=.5pt] coordinates {(52.3,389)(68,384)(84.7,389)};
\addplot[sig=track] coordinates {(37,406.7)(52.3,406.7)(52.3,398)(52.3,406.7)(85,406.7)(85,405)(85,406.7)(123,406.7)(123,403)(123,406.7)(135,406.7)};
\arc{red!70}{52.3}{68}{85}{407.5}{414}\arc{red!70}{52.3}{88}{123}{407.5}{414}\arc{red!50}{52.3}{78}{103}{407.5}{413}
\T[red!75]{6.5}{87,418.5}{dACR-gene loops}
\T[red!85!orange]{7.5}{45,435}{dACRs}\T[permblue]{7.5}{78,435}{Permuted}
\T{6}{48,471}{p=0.01}\T{6}{48,476.5}{n=16}\T{6}{83,446}{p=0.01}\T{6}{83,452.5}{n=30}\T{6}{119,475}{p=0.24}\T{6}{119,481}{n=9}
\T[rotate=90]{6}{7,463}{\% of eQTL-gene pairs}\T[rotate=90]{6}{14,463}{overlapping dACR-gene loops}

% panel k text
\T{6}{233,434}{ARFs}\T{6}{317,434}{bZIPs}\T{6}{362,434}{EREBs}\T{6}{397,434}{LBDs}\T{6}{427,434}{SBPs}
\T[anchor=west,lred]{6.2}{183,436}{Leaf Hi-C}\T[anchor=west,lblue]{6.2}{183,444}{H3K27me3 HiChIP}\T[anchor=west,lpurple]{6.2}{183,453}{H3K4me3 HiChIP}
\T{7}{313,523}{Transcription factors}
\T[rotate=90]{6.6}{153,470}{Enrichment of TF on both}\T[rotate=90]{6.6}{163,470}{edges of loop (-log\textsubscript{10}(p-value))}

% panel l text
\T{6.2}{494,430}{n = 393}\T{6.2}{530,430}{n = 1,242}\T{6.2}{566,430}{n = 492}\T{6.2}{601,430}{n = 774}
\T[rotate=90]{6.2}{457,467}{expression of genes in dACR-}\T[rotate=90]{6.2}{465,467}{gene loops (log\textsubscript{10}(FPKM))}
\end{axis}
\end{tikzpicture}
\end{document}
